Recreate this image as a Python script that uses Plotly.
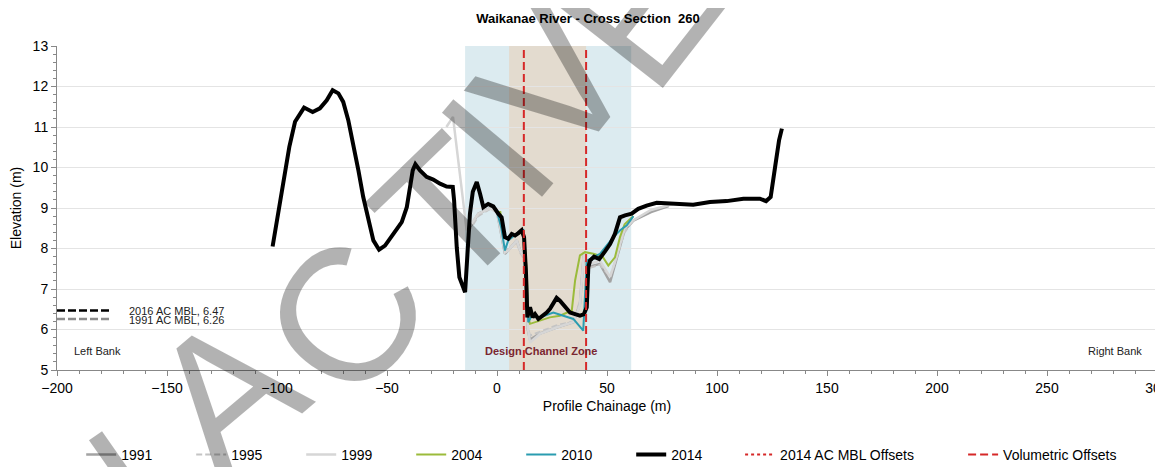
import plotly.graph_objects as go

# ---------------- data ----------------
x2014 = [-102, -98.6, -94.4, -91.8, -87.7, -83.8, -80.5, -77.4, -74.7, -72.1, -69.9, -67.6, -65.3, -63, -60.8,
         -58.5, -56.2, -53.6, -50.9, -47.1, -43.3, -41, -39.5, -38.3, -37.1, -35, -32, -29, -25.9, -22.9,
         -20.1, -19.5, -18.3, -17.1, -14.5, -13.5, -12.3, -11, -9.2, -7.7, -6.2, -4, -1.7, 0.6, 2.1, 3.6,
         5.1, 6.7, 8.2, 9.7, 11.2, 12.3, 13.2, 13.8, 15, 16.2, 17.3, 18.8, 21, 22.6, 24.1, 25.6, 27.1, 28.6,
         30.9, 33.2, 35.5, 37.7, 39.5, 40.8, 41.5, 42.3, 44.1, 46.5, 49.1, 51.4, 53.6, 55.9, 58.2, 61.2,
         64.2, 68, 72.6, 80.1, 89.2, 96.8, 104.4, 112, 119.5, 122.3, 124.4, 126.4, 128.2, 129.5]
y2014 = [8.05, 9.19, 10.51, 11.13, 11.48, 11.37, 11.46, 11.66, 11.91, 11.83, 11.62, 11.17, 10.59, 9.93, 9.27,
         8.69, 8.2, 7.97, 8.07, 8.36, 8.65, 9.02, 9.52, 9.93, 10.08, 9.93, 9.77, 9.7, 9.6, 9.53,
         9.52, 9.19, 8.03, 7.29, 6.92, 8.03, 8.86, 9.4, 9.64, 9.35, 9.02, 9.1, 9.04, 8.86, 8.77, 8.28,
         8.24, 8.36, 8.32, 8.38, 8.45, 8.28, 7.37, 6.3, 6.55, 6.3, 6.38, 6.26, 6.34, 6.42, 6.51, 6.67, 6.78, 6.71,
         6.55, 6.42, 6.38, 6.34, 6.38, 6.55, 7.54, 7.7, 7.8, 7.74, 7.93, 8.11, 8.36, 8.77, 8.82, 8.86,
         8.98, 9.06, 9.13, 9.1, 9.08, 9.15, 9.17, 9.23, 9.23, 9.17, 9.27, 10.01, 10.67, 10.96]

x1991 = [-13, -8.5, -3, 0, 3.6, 5.1, 9, 10.5, 12.7, 14, 15, 19.5, 27, 34.7, 37.7, 39.5, 41, 46.8, 51.4, 54.4, 58, 62, 70, 78]
y1991 = [8.45, 8.86, 9.0, 8.9, 7.87, 7.95, 8.2, 7.95, 7.78, 6.0, 5.75, 5.9, 6.05, 6.18, 6.63, 7.9, 7.54, 7.62, 7.17, 7.78, 8.45, 8.69, 8.9, 9.05]

x1995 = [-13, -8.5, -3, 0, 3.6, 5.1, 9, 10.5, 12.7, 14, 15, 19.5, 27, 34.7, 37.7, 39.5, 41, 46.8, 51.4, 54.4, 58, 62]
y1995 = [8.4, 8.8, 8.98, 8.9, 7.9, 8.0, 8.15, 7.9, 7.7, 6.05, 5.85, 5.95, 6.1, 6.2, 6.7, 7.85, 7.5, 7.6, 7.3, 7.8, 8.4, 8.7]

x1999 = [-23, -20, -13.8, -8.5, -3.2, 0, 3.6, 5.1, 9, 10.5, 12.7, 14, 15, 19.5, 27, 34.7, 37.7, 39.5, 41, 46.8, 51.4, 54.4, 58, 62, 70, 80]
y1999 = [11.0, 11.25, 8.45, 8.86, 8.99, 8.9, 7.9, 7.95, 8.2, 7.95, 7.78, 6.05, 5.68, 5.89, 6.05, 6.18, 6.6, 7.9, 7.6, 7.7, 7.3, 7.8, 8.5, 8.7, 8.95, 9.1]

x2004 = [0, 1.5, 3, 5, 9, 12, 13.5, 14.2, 15, 19.5, 24, 28.6, 34, 35.5, 37.7, 40, 43.8, 48, 50.6, 53.6, 55.9, 58, 62]
y2004 = [8.9, 8.9, 8.3, 8.25, 8.35, 8.4, 7.5, 6.3, 6.14, 6.22, 6.3, 6.34, 6.47, 7.21, 7.83, 7.91, 7.87, 7.8, 7.58, 7.78, 8.28, 8.6, 8.8]

x2010 = [0, 2, 3.6, 5.1, 9.7, 12, 13.5, 14.2, 15.8, 19.5, 25.6, 30.1, 34.7, 39.2, 40.8, 46.8, 52.9, 56, 59, 62]
y2010 = [8.9, 8.5, 7.95, 8.2, 8.4, 8.45, 7.4, 6.18, 6.34, 6.3, 6.42, 6.34, 6.26, 5.97, 7.7, 7.87, 8.28, 8.45, 8.57, 8.8]

volumetric_offsets_x = [12.2, 40.5]
design_zone = [5.5, 40.5]
outer_zone = [-14.5, 61]
mbl_labels = ["2016 AC MBL, 6.47", "1991 AC MBL, 6.26"]
mbl_values = [6.47, 6.26]
mbl_x = [-200, -175]
y_range = [5, 13]
x_range = [-200, 300]

series = [
    ("1991", x1991, y1991, dict(color="#A3A3A3", width=2.5)),
    ("1995", x1995, y1995, dict(color="#C4C4C4", width=2, dash="6px,3px")),
    ("1999", x1999, y1999, dict(color="#D6D6D6", width=2.5)),
    ("2004", x2004, y2004, dict(color="#9BBB3B", width=2)),
    ("2010", x2010, y2010, dict(color="#2A9CB0", width=2)),
    ("2014", x2014, y2014, dict(color="#000000", width=4)),
]

# page offset of the default body margin (8px) is compensated in the margins
OFF = 8
W, H = 1163, 467
PL, PR, PT, PB = 57, 1157, 46, 370  # plot area in page pixels

fig = go.Figure()

for name, xs, ys, ln in series:
    fig.add_trace(go.Scatter(x=xs, y=ys, mode="lines", name=name, line=ln, legend="legend"))

# MBL reference lines
for val, col in zip(mbl_values, ["#000000", "#8C8C8C"]):
    fig.add_trace(go.Scatter(x=mbl_x, y=[val, val], mode="lines", showlegend=False,
                             line=dict(color=col, width=2.5, dash="8px,3px")))

# offsets
fig.add_trace(go.Scatter(x=[None], y=[None], mode="lines", name="2014 AC MBL Offsets",
                         line=dict(color="#D62828", width=2, dash="dot"), legend="legend2"))
vx, vy = [], []
for v in volumetric_offsets_x:
    vx += [v, v, None]
    vy += [y_range[0], y_range[1], None]
fig.add_trace(go.Scatter(x=vx, y=vy, mode="lines", name="Volumetric Offsets",
                         line=dict(color="#D62828", width=2, dash="8px,4px"), legend="legend2"))

shapes = [
    dict(type="rect", xref="x", yref="y", x0=outer_zone[0], x1=outer_zone[1], y0=y_range[0], y1=y_range[1],
         fillcolor="#DCEBF0", line=dict(width=0), layer="below"),
    dict(type="rect", xref="x", yref="y", x0=design_zone[0], x1=design_zone[1], y0=y_range[0], y1=y_range[1],
         fillcolor="#E3DBCF", line=dict(width=0), layer="below"),
]

annotations = [
    dict(x=-193, y=5.48, xref="x", yref="y", text="Left Bank", showarrow=False, xanchor="left",
         font=dict(size=11, color="#222")),
    dict(x=294, y=5.48, xref="x", yref="y", text="Right Bank", showarrow=False, xanchor="right",
         font=dict(size=11, color="#222")),
    dict(x=20, y=5.48, xref="x", yref="y", text="<b>Design Channel Zone</b>", showarrow=False,
         font=dict(size=11, color="#7A2630")),
]
for lab, val in zip(mbl_labels, mbl_values):
    annotations.append(dict(x=-168, y=val - 0.02, xref="x", yref="y", text=lab, showarrow=False,
                            xanchor="left", yanchor="middle", font=dict(size=11, color="#222")))

# watermark letters (page pixel positions converted to paper coords)
wm = [("N", 95, 515, -35), ("A", 225, 392, -40), ("C", 345, 318, -55), ("T", 448, 212, -44),
      ("I", 497, 148, -50), ("V", 553, 83, -51), ("E", 640, 10, -52)]
for ch, px, py, ang in wm:
    annotations.append(dict(x=(px - PL) / (PR - PL), y=(PB - py) / (PB - PT), xref="paper", yref="paper",
                            text=ch, showarrow=False, textangle=ang, xanchor="center", yanchor="middle",
                            font=dict(size=190, color="rgba(0,0,0,0.3)", family="Liberation Sans")))

fig.update_layout(
    width=W, height=H,
    margin=dict(l=PL - OFF, r=W - (PR - OFF), t=PT - OFF, b=H - (PB - OFF), autoexpand=False),
    plot_bgcolor="white", paper_bgcolor="white",
    font=dict(family="Liberation Sans, Arial, sans-serif", color="#000"),
    title=dict(text="<b>Waikanae River - Cross Section \u00a0260</b>", x=(588 - OFF) / W, xref="container",
               y=1 - (18 - OFF) / H, yref="container", yanchor="middle", xanchor="center",
               font=dict(size=13)),
    shapes=shapes, annotations=annotations,
    legend=dict(orientation="h", x=0.022, y=-0.262, xanchor="left", yanchor="middle",
                entrywidth=65, entrywidthmode="pixels", font=dict(size=14), traceorder="normal",
                bgcolor="rgba(0,0,0,0)"),
    legend2=dict(orientation="h", x=0.621, y=-0.262, xanchor="left", yanchor="middle",
                 entrywidth=178, entrywidthmode="pixels", font=dict(size=14), traceorder="normal",
                 bgcolor="rgba(0,0,0,0)"),
    showlegend=True,
)
fig.update_xaxes(range=x_range, dtick=50, tick0=0, ticks="outside", ticklen=5, tickcolor="#888",
                 showline=True, linecolor="#888", linewidth=1, showgrid=False, zeroline=False,
                 tickfont=dict(size=14), automargin=False,
                 minor=dict(dtick=10, ticks="outside", ticklen=3, tickcolor="#888", showgrid=False),
                 title=dict(text="Profile Chainage (m)", font=dict(size=14), standoff=6))
fig.update_yaxes(range=y_range, dtick=1, ticks="outside", ticklen=5, tickcolor="#888",
                 showline=True, linecolor="#888", linewidth=1, showgrid=True, gridcolor="#E4E4E4",
                 zeroline=False, tickfont=dict(size=14), automargin=False,
                 minor=dict(dtick=0.2, ticks="outside", ticklen=3, tickcolor="#888", showgrid=False),
                 title=dict(text="Elevation (m)", font=dict(size=14), standoff=8))

fig.write_html("out.html")
